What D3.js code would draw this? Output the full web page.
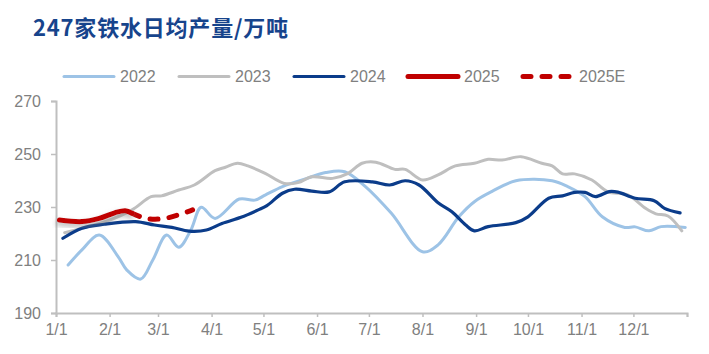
<!DOCTYPE html>
<html>
<head>
<meta charset="utf-8">
<script src="https://cdn.jsdelivr.net/npm/d3@7"></script>
<style>
  body { margin: 0; background: #fff; }
  svg text { font-family: "Liberation Sans", Arial, sans-serif; }
</style>
</head>
<body>
<div id="chart"></div>
<script>
// day of year (0 = 1/1) and daily output
const days2022 = [7, 15, 25, 36, 41, 49, 56, 64, 71, 78, 84, 92, 106, 115, 121, 131, 146, 156, 167, 179, 194, 212, 221, 233, 242, 252, 266, 287, 296, 306, 316, 329, 335, 343, 350, 364];
const vals2022 = [208.1, 213.8, 219.4, 211.2, 206.2, 202.8, 210, 219.4, 214.8, 221.3, 229.9, 225.7, 233, 232.6, 234.5, 237.7, 241, 243, 243.3, 237.7, 227.6, 213.1, 215.7, 226.3, 232, 235.8, 239.9, 239.9, 237.7, 233.9, 226.3, 222.3, 222.5, 221, 222.6, 222.3];

const days2023 = [5, 18, 30, 44, 55, 61, 71, 80, 92, 98, 105, 111, 121, 132, 140, 148, 160, 169, 177, 185, 196, 202, 212, 221, 231, 242, 250, 258, 269, 281, 287, 293, 300, 310, 319, 331, 341, 347, 354, 362];
const vals2023 = [220.3, 222.5, 224.8, 228.9, 233.9, 234.2, 236.4, 238.3, 243.7, 245, 246.5, 245.5, 242.7, 238.9, 239.2, 241.4, 240.8, 242.7, 246.5, 246.9, 244.2, 244.2, 240.2, 242.1, 245.5, 246.5, 248, 247.7, 249, 246.5, 245.5, 242.5, 242.5, 240.2, 235.8, 234.5, 229.5, 227.4, 226.6, 221];

const days2024 = [4, 15, 28, 46, 57, 67, 77, 87, 96, 107, 117, 122, 131, 138, 148, 158, 167, 183, 193, 202, 210, 221, 229, 237, 242, 250, 266, 273, 285, 293, 300, 306, 312, 320, 325, 335, 346, 352, 361];
const vals2024 = [218.2, 222, 223.5, 224.5, 223.2, 222.3, 220.9, 221.3, 223.8, 226.1, 228.9, 230.5, 235.2, 236.7, 236, 235.7, 239.5, 239.5, 238.3, 239.9, 238.3, 231.6, 228.2, 223.2, 221, 222.6, 224.1, 226.3, 233.3, 234.2, 235.5, 235.5, 233.9, 235.8, 235.6, 233.3, 232.4, 229.5, 227.8];

const days2025 = [2, 15, 25, 34, 40, 44];
const vals2025 = [225.1, 224.5, 225.7, 227.8, 228.6, 227.6];

const days2025E = [44, 52, 63, 79];
const vals2025E = [227.6, 225.7, 225.7, 228.9];

const yTicks = [190, 210, 230, 250, 270];
const seriesNames = ["2022", "2023", "2024", "2025", "2025E"];

const width = 709, height = 354;
const margin = {top: 101, right: 22, bottom: 41, left: 56};

const svg = d3.select("#chart").append("svg")
    .attr("width", width)
    .attr("height", height);

// shadow under the 2025 line
const defs = svg.append("defs");
defs.append("filter")
    .attr("id", "shadow")
    .attr("x", "-10%").attr("y", "-50%")
    .attr("width", "120%").attr("height", "200%")
  .append("feDropShadow")
    .attr("dx", -1).attr("dy", 3)
    .attr("stdDeviation", 2.5)
    .attr("flood-color", "#808080")
    .attr("flood-opacity", 0.55);

// title
svg.append("text")
    .attr("x", 33)
    .attr("y", 36)
    .style("font-family", "'Noto Sans CJK SC', sans-serif")
    .style("font-weight", "bold")
    .style("font-size", "22px")
    .style("letter-spacing", "0.8px")
    .style("fill", "#17448c")
    .text("247家铁水日均产量/万吨");

const base = new Date(2023, 0, 1);
const toDate = d => d3.timeDay.offset(base, d);

const x = d3.scaleTime()
    .domain([base, new Date(2024, 0, 1)])
    .range([margin.left, width - margin.right]);

const y = d3.scaleLinear()
    .domain([190, 270])
    .range([height - margin.bottom, margin.top]);

// X axis
const xAxis = svg.append("g")
    .attr("transform", `translate(0, ${height - margin.bottom})`)
    .call(d3.axisBottom(x)
        .tickValues(d3.timeMonth.range(base, new Date(2024, 0, 2)))
        .tickSize(4)
        .tickFormat(d => d.getFullYear() === 2024 ? "" : (d.getMonth() + 1) + "/1"));
xAxis.select(".domain").attr("stroke", "#bfbfbf").attr("stroke-width", 2);
xAxis.selectAll(".tick line").attr("stroke", "#bfbfbf").attr("stroke-width", 1.5);
xAxis.selectAll(".tick text")
    .attr("dy", "0.95em")
    .style("font-size", "16px")
    .style("fill", "#808080");

// Y axis
const yAxis = svg.append("g")
    .attr("transform", `translate(${margin.left}, 0)`)
    .call(d3.axisLeft(y).tickValues(yTicks).tickSize(5).tickPadding(10));
yAxis.select(".domain").attr("stroke", "#bfbfbf").attr("stroke-width", 2);
yAxis.selectAll(".tick line").attr("stroke", "#bfbfbf").attr("stroke-width", 1.5);
yAxis.selectAll(".tick text")
    .style("font-size", "16px")
    .style("fill", "#808080");

const line = d3.line()
    .x(d => x(toDate(d[0])))
    .y(d => y(d[1]))
    .curve(d3.curveCatmullRom.alpha(0.5));

const series = [
  {name: "2022", days: days2022, vals: vals2022, color: "#9dc3e6", w: 3},
  {name: "2023", days: days2023, vals: vals2023, color: "#bfbfbf", w: 3},
  {name: "2024", days: days2024, vals: vals2024, color: "#0b3c8a", w: 3.2},
  {name: "2025E", days: days2025E, vals: vals2025E, color: "#c00000", w: 5, dash: "8,11"},
  {name: "2025", days: days2025, vals: vals2025, color: "#c00000", w: 5, shadow: true}
];

series.forEach(s => {
  const pts = s.days.map((d, i) => [d, s.vals[i]]);
  const p = svg.append("path")
      .datum(pts)
      .attr("d", line)
      .attr("fill", "none")
      .attr("stroke", s.color)
      .attr("stroke-width", s.w)
      .attr("stroke-linecap", "round")
      .attr("stroke-linejoin", "round");
  if (s.dash) p.attr("stroke-dasharray", s.dash);
  if (s.shadow) p.attr("filter", "url(#shadow)");
});

// legend
const legendItems = [
  {name: seriesNames[0], x: 63, color: "#9dc3e6", w: 3},
  {name: seriesNames[1], x: 178, color: "#bfbfbf", w: 3},
  {name: seriesNames[2], x: 293, color: "#0b3c8a", w: 3},
  {name: seriesNames[3], x: 407, color: "#c00000", w: 5},
  {name: seriesNames[4], x: 522, color: "#c00000", w: 5, dash: "8,11"}
];
const legend = svg.append("g");
legendItems.forEach(it => {
  const l = legend.append("line")
      .attr("x1", it.x + 1).attr("x2", it.x + 51)
      .attr("y1", 76.5).attr("y2", 76.5)
      .attr("stroke", it.color)
      .attr("stroke-width", it.w)
      .attr("stroke-linecap", "round");
  if (it.dash) l.attr("stroke-dasharray", it.dash);
  legend.append("text")
      .attr("x", it.x + 57)
      .attr("y", 76.5)
      .attr("dy", "0.35em")
      .style("font-size", "16px")
      .style("fill", "#808080")
      .text(it.name);
});
</script>
</body>
</html>
